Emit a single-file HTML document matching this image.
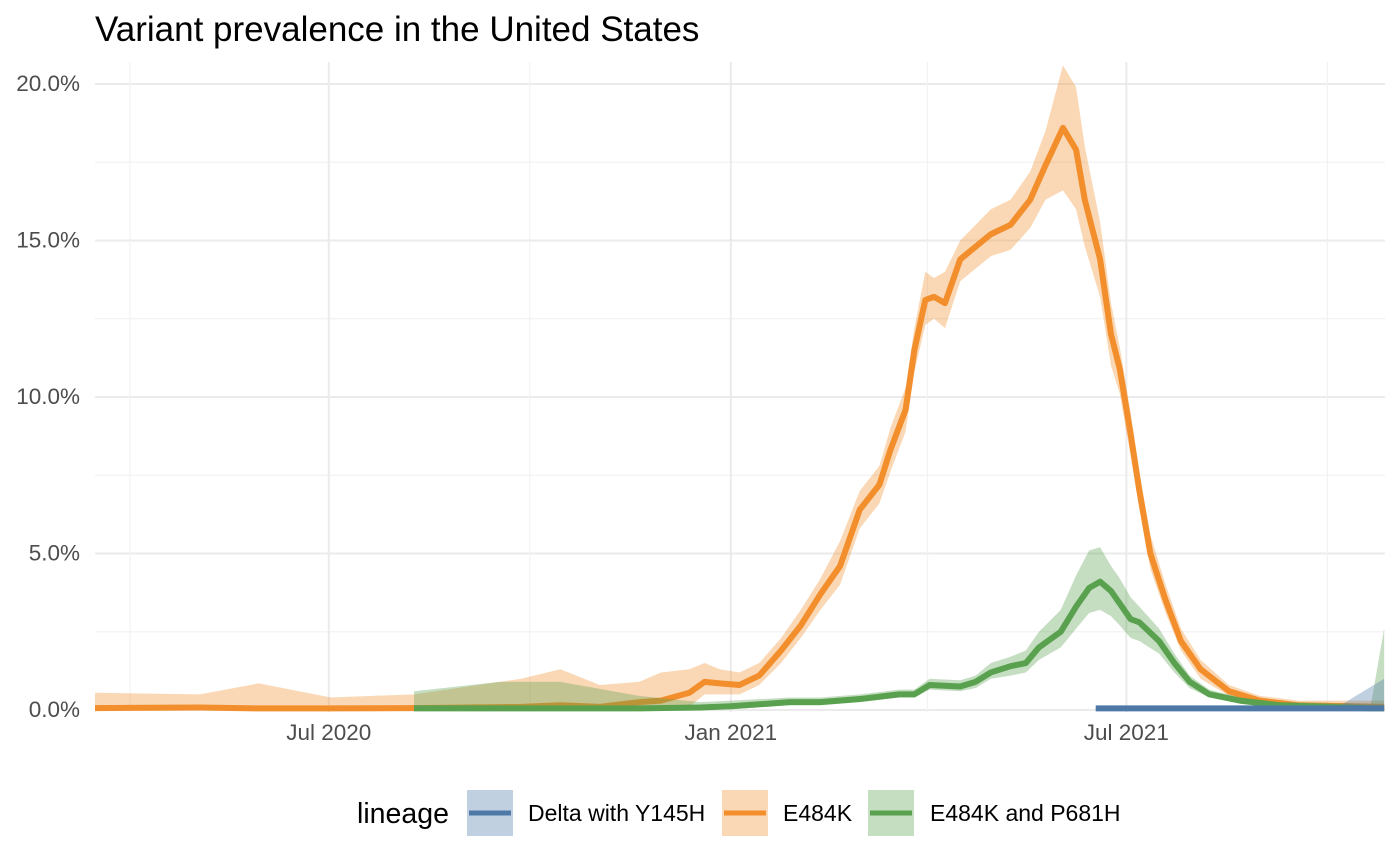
<!DOCTYPE html>
<html><head><meta charset="utf-8"><style>
body{margin:0;background:#fff;font-family:"Liberation Sans",Arial,sans-serif;}
svg{display:block}
</style></head><body>
<svg id="chart" width="1400" height="865">
<text x="95" y="41" font-size="35" fill="#000">Variant prevalence in the United States</text>
<g id="grid"></g><g id="marks"></g><g id="axes"></g>
<g id="legend">
<text x="357" y="823" font-size="28.5" fill="#000">lineage</text>
<g>
<rect x="467" y="790" width="46" height="46" fill="#4E79A7" fill-opacity="0.35"/><line x1="469" y1="813" x2="511" y2="813" stroke="#4E79A7" stroke-width="5"/>
<text x="528" y="821" font-size="23" fill="#000">Delta with Y145H</text></g>
<g>
<rect x="722" y="790" width="46" height="46" fill="#F28E2B" fill-opacity="0.35"/><line x1="724" y1="813" x2="766" y2="813" stroke="#F28E2B" stroke-width="5"/>
<text x="783" y="821" font-size="23" fill="#000">E484K</text></g>
<g>
<rect x="868" y="790" width="46" height="46" fill="#59A14F" fill-opacity="0.35"/><line x1="870" y1="813" x2="912" y2="813" stroke="#59A14F" stroke-width="5"/>
<text x="930" y="821" font-size="23" fill="#000">E484K and P681H</text></g>
</g>
</svg>
<script>
// days since 2020-03-16
const e484kDays=[0,48,75,108,146,195,213,231,249,259,272,279,286,295,304,314,323,332,341,350,359,364,371,375,380,384,389,396,410,419,428,435,443,449,453,460,465,469,474,478,483,490,497,506,519,533,551,590];
const e484kMean=[0.06,0.08,0.05,0.05,0.06,0.1,0.15,0.1,0.25,0.3,0.55,0.9,0.85,0.8,1.1,1.9,2.7,3.7,4.6,6.4,7.2,8.3,9.6,11.5,13.1,13.2,13.0,14.4,15.2,15.5,16.3,17.4,18.6,17.9,16.3,14.4,12.0,10.9,8.8,7.0,5.0,3.5,2.2,1.3,0.6,0.3,0.15,0.1];
const e484kHi=[0.55,0.5,0.85,0.4,0.5,1.0,1.3,0.8,0.9,1.2,1.3,1.5,1.3,1.2,1.5,2.3,3.2,4.2,5.4,7.0,7.8,9.0,10.3,12.2,14.0,13.8,14.0,15.0,16.0,16.3,17.2,18.5,20.6,19.9,18.0,15.6,13.0,11.6,9.5,7.6,5.6,4.0,2.6,1.6,0.8,0.45,0.3,0.3];
const e484kLo=[0,0,0,0,0,0,0,0,0,0,0.1,0.5,0.5,0.5,0.8,1.5,2.3,3.2,4.0,5.8,6.6,7.6,8.9,10.8,12.3,12.5,12.2,13.7,14.5,14.7,15.4,16.3,16.6,16.0,14.8,13.2,11.0,10.1,8.1,6.4,4.5,3.1,1.9,1.0,0.45,0.2,0.05,0];
const p681Days=[146,185,213,249,277,291,318,332,350,368,375,382,396,403,410,419,426,432,442,449,455,460,465,469,474,478,487,494,501,510,524,542,584,590];
const p681Mean=[0.05,0.05,0.05,0.05,0.08,0.12,0.25,0.25,0.35,0.5,0.5,0.8,0.75,0.9,1.2,1.4,1.5,2.0,2.5,3.3,3.9,4.1,3.8,3.4,2.9,2.8,2.2,1.5,0.9,0.5,0.3,0.15,0.05,0.05];
const p681Hi=[0.6,0.9,0.9,0.45,0.25,0.3,0.4,0.4,0.5,0.65,0.65,1.0,0.95,1.1,1.5,1.7,1.9,2.5,3.2,4.3,5.1,5.2,4.6,4.2,3.6,3.3,2.6,1.8,1.1,0.65,0.4,0.25,0.2,2.6];
const p681Lo=[0,0,0,0,0,0.02,0.15,0.15,0.25,0.4,0.4,0.65,0.6,0.7,1.0,1.1,1.2,1.6,2.0,2.6,3.1,3.2,3.0,2.7,2.3,2.2,1.8,1.2,0.7,0.4,0.2,0.08,0,0];
const deltaDays=[458,520,570,590];
const deltaMean=[0.05,0.05,0.05,0.05];
const deltaHi=[0.1,0.1,0.15,1.0];
const deltaLo=[0,0,0,0];
const yTicks=[0,5,10,15,20];
const yTickLabels=["0.0%","5.0%","10.0%","15.0%","20.0%"];
const xTickDays=[107,291,472];
const xTickLabels=["Jul 2020","Jan 2021","Jul 2021"];
const xMinorDays=[16,199,381,564];

const X0=95,PXD=2.185,Y0=710,PXV=31.3;
const xs=d=>X0+d*PXD, ys=v=>Y0-v*PXV;
const NS="http://www.w3.org/2000/svg";
function mk(parent,tag,attrs){const e=document.createElementNS(NS,tag);for(const k in attrs)e.setAttribute(k,attrs[k]);document.getElementById(parent).appendChild(e);return e;}
yTicks.forEach((v,i)=>{
 const l=mk('grid','line',{x1:95,x2:1385,y1:ys(v),y2:ys(v),stroke:'#ebebeb','stroke-width':2});
 
 
 if(i<yTicks.length-1){const m=mk('grid','line',{x1:95,x2:1385,y1:ys(v+2.5),y2:ys(v+2.5),stroke:'#f2f2f2','stroke-width':1.2});
 
 }
 const t=mk('axes','text',{x:80,y:ys(v)+7,'text-anchor':'end','font-size':22.5,fill:'#4d4d4d'});
 t.textContent=yTickLabels[i];
 
 
});
xMinorDays.forEach(d=>{const m=mk('grid','line',{x1:xs(d),x2:xs(d),y1:62,y2:712,stroke:'#f2f2f2','stroke-width':1.2});
 
 });
xTickDays.forEach((d,i)=>{
 const l=mk('grid','line',{x1:xs(d),x2:xs(d),y1:62,y2:712,stroke:'#ebebeb','stroke-width':2});
 
 
 const t=mk('axes','text',{x:xs(d),y:740,'text-anchor':'middle','font-size':22.5,fill:'#4d4d4d'});
 t.textContent=xTickLabels[i];
 
 
});
function series(days,mean,hi,lo,color,name){
 let p='M'+days.map((d,i)=>xs(d)+','+ys(hi[i])).join('L');
 for(let i=days.length-1;i>=0;i--)p+='L'+xs(days[i])+','+ys(lo[i]);
 const a=mk('marks','path',{d:p+'Z',fill:color,'fill-opacity':0.35});
 
 
 const l=mk('marks','path',{d:'M'+days.map((d,i)=>xs(d)+','+ys(mean[i])).join('L'),fill:'none',stroke:color,'stroke-width':6,'stroke-linejoin':'round'});
 
 
}
series(e484kDays,e484kMean,e484kHi,e484kLo,'#F28E2B','e484k');
series(p681Days,p681Mean,p681Hi,p681Lo,'#59A14F','e484k-p681h');
series(deltaDays,deltaMean,deltaHi,deltaLo,'#4E79A7','delta-y145h');
</script>
</body></html>
